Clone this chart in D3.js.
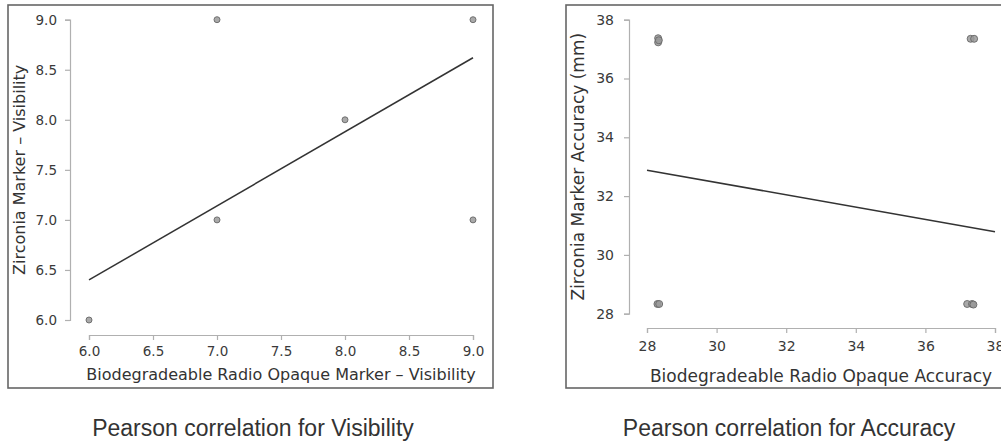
<!DOCTYPE html>
<html>
<head>
<meta charset="utf-8">
<script src="https://cdn.jsdelivr.net/npm/d3@7"></script>
<style>
  body { margin: 0; background: #fff; }
  svg { display: block; }
  .axis path, .axis line { stroke: #b0b0b0; stroke-width: 1.2; }
  .axis text { fill: #3a3a3a; font-family: "DejaVu Sans", sans-serif; }
</style>
</head>
<body>
<svg class="chart" width="1001" height="444"></svg>
<script>
// visibility scores (left panel)
const visX = [6, 7, 7, 8, 9, 9];
const visY = [6, 7, 9, 8, 9, 7];
const visFit = [[6, 6.40], [9, 8.62]];
const visTicks = [6.0, 6.5, 7.0, 7.5, 8.0, 8.5, 9.0];

// accuracy in mm (right panel)
const accX = [28.32, 28.32, 28.34, 28.30, 28.35, 37.30, 37.40, 37.20, 37.34, 37.38];
const accY = [37.37, 37.23, 37.30, 28.33, 28.33, 37.35, 37.35, 28.33, 28.33, 28.31];
const accFit = [[28, 32.88], [38, 30.79]];
const accTicks = [28, 30, 32, 34, 36, 38];

const captions = ['Pearson correlation for Visibility', 'Pearson correlation for Accuracy'];

const svg = d3.select('.chart');

function drawPanel(p) {
  const g = svg.append('g');

  g.append('rect')
    .attr('x', p.frame[0]).attr('y', p.frame[1])
    .attr('width', p.frame[2] - p.frame[0]).attr('height', p.frame[3] - p.frame[1])
    .attr('fill', 'none').attr('stroke', '#666').attr('stroke-width', 1.6);

  const x = d3.scaleLinear().domain(p.xDomain).range(p.xRange);
  const y = d3.scaleLinear().domain(p.yDomain).range(p.yRange);

  const yAxis = g.append('g')
    .attr('class', 'axis')
    .attr('transform', `translate(${p.yAxisX},0)`)
    .call(d3.axisLeft(y).tickValues(p.ticks).tickFormat(p.fmt).tickSizeOuter(0).tickSize(5).tickPadding(p.yPad));
  yAxis.selectAll('text').style('font-size', p.tickFont + 'px');

  const xAxis = g.append('g')
    .attr('class', 'axis')
    .attr('transform', `translate(0,${p.xAxisY})`)
    .call(d3.axisBottom(x).tickValues(p.ticks).tickFormat(p.fmt).tickSizeOuter(0).tickSize(5).tickPadding(p.xPad));
  xAxis.selectAll('text').style('font-size', p.tickFont + 'px');

  g.append('text')
    .attr('x', (p.xRange[0] + p.xRange[1]) / 2)
    .attr('y', p.xLabelY)
    .attr('text-anchor', 'middle')
    .attr('font-family', 'DejaVu Sans, sans-serif')
    .attr('font-size', p.labelFont)
    .attr('fill', '#333')
    .text(p.xLabel);

  g.append('text')
    .attr('transform', `translate(${p.yLabelX},${(p.yRange[0] + p.yRange[1]) / 2}) rotate(-90)`)
    .attr('text-anchor', 'middle')
    .attr('font-family', 'DejaVu Sans, sans-serif')
    .attr('font-size', p.labelFont)
    .attr('fill', '#333')
    .text(p.yLabel);

  g.append('line')
    .attr('x1', x(p.fit[0][0])).attr('y1', y(p.fit[0][1]))
    .attr('x2', x(p.fit[1][0])).attr('y2', y(p.fit[1][1]))
    .attr('stroke', '#333').attr('stroke-width', 1.5);

  g.append('g')
    .selectAll('circle')
    .data(p.xs.map((v, i) => [v, p.ys[i]]))
    .enter()
    .append('circle')
    .attr('cx', d => x(d[0]))
    .attr('cy', d => y(d[1]))
    .attr('r', p.r)
    .attr('fill', '#9a9a9a')
    .attr('fill-opacity', 0.85)
    .attr('stroke', '#666')
    .attr('stroke-width', 0.9);

  svg.append('text')
    .attr('x', p.captionX)
    .attr('y', 436)
    .attr('text-anchor', 'middle')
    .attr('font-family', 'Liberation Sans, Arial, sans-serif')
    .attr('font-size', 23)
    .attr('fill', '#333')
    .text(p.caption);
}

drawPanel({
  frame: [8, 5, 493, 388],
  xDomain: [6, 9], xRange: [89, 473],
  yDomain: [6, 9], yRange: [320, 19.7],
  xAxisY: 335, yAxisX: 70,
  ticks: visTicks, fmt: d3.format('.1f'),
  tickFont: 13.5, labelFont: 16, xPad: 6, yPad: 8,
  xLabel: 'Biodegradeable Radio Opaque Marker \u2013 Visibility', xLabelY: 380,
  yLabel: 'Zirconia Marker \u2013 Visibility', yLabelX: 25,
  xs: visX, ys: visY, fit: visFit, r: 3,
  caption: captions[0], captionX: 253
});

drawPanel({
  frame: [566, 5, 1012, 388],
  xDomain: [28, 38], xRange: [647, 995],
  yDomain: [28, 38], yRange: [313.7, 19.7],
  xAxisY: 328, yAxisX: 629,
  ticks: accTicks, fmt: d3.format('d'),
  tickFont: 14, labelFont: 17, xPad: 8, yPad: 10,
  xLabel: 'Biodegradeable Radio Opaque Accuracy', xLabelY: 382,
  yLabel: 'Zirconia Marker Accuracy (mm)', yLabelX: 584,
  xs: accX, ys: accY, fit: accFit, r: 3.5,
  caption: captions[1], captionX: 789
});
</script>
</body>
</html>
